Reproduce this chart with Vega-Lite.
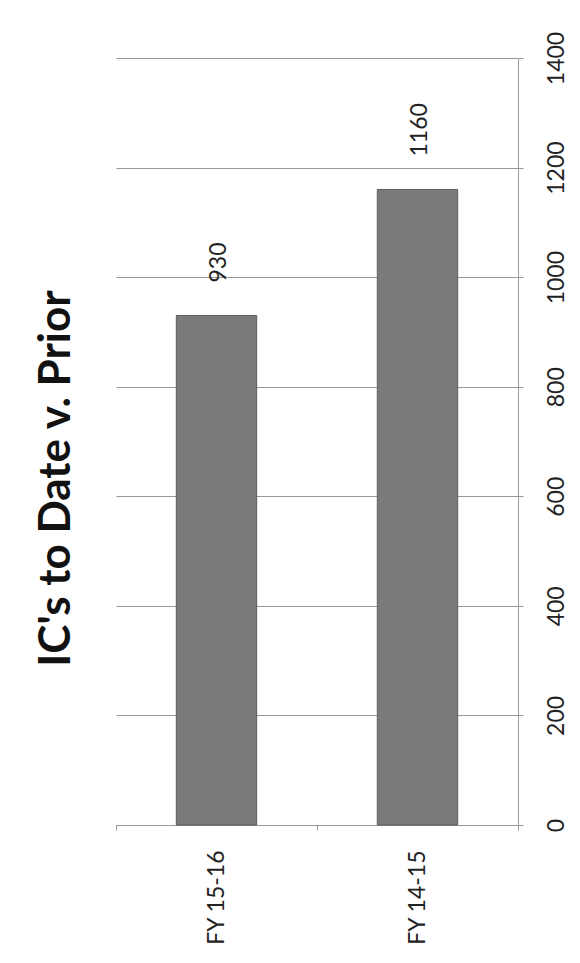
{
  "$schema": "https://vega.github.io/schema/vega-lite/v6.json",
  "width": 402,
  "height": 767,
  "autosize": {"type": "none"},
  "padding": {"left": 116, "top": 58, "right": 62, "bottom": 138},
  "background": "white",
  "title": {
    "text": "IC's to Date v. Prior",
    "orient": "left",
    "anchor": "middle",
    "font": "Lato",
    "fontSize": 44,
    "fontWeight": "bold",
    "color": "#111",
    "offset": 26,
    "dx": -37
  },
  "data": {
    "values": [
      {"period": "FY 15-16", "count": 930},
      {"period": "FY 14-15", "count": 1160}
    ]
  },
  "encoding": {
    "x": {
      "field": "period",
      "type": "nominal",
      "sort": null,
      "scale": {"paddingInner": 0, "paddingOuter": 0},
      "axis": {
        "title": null,
        "orient": "bottom",
        "labelAngle": -90,
        "labelAlign": "right",
        "labelBaseline": "middle",
        "labelFont": "Lato",
        "labelFontSize": 23,
        "labelColor": "#222",
        "labelPadding": 20,
        "tickBand": "extent",
        "tickSize": 5,
        "tickColor": "#999",
        "domainColor": "#999",
        "grid": false
      }
    },
    "y": {
      "field": "count",
      "type": "quantitative",
      "scale": {"domain": [0, 1400], "nice": false},
      "axis": {
        "title": null,
        "orient": "right",
        "values": [0, 200, 400, 600, 800, 1000, 1200, 1400],
        "format": "d",
        "labelAngle": -90,
        "labelAlign": "center",
        "labelBaseline": "top",
        "labelFont": "Lato",
        "labelFontSize": 23,
        "labelColor": "#222",
        "labelPadding": 22,
        "tickSize": 5,
        "tickColor": "#999",
        "domainColor": "#999",
        "grid": true,
        "gridColor": "#999"
      }
    }
  },
  "layer": [
    {
      "mark": {"type": "bar", "width": {"band": 0.4}, "color": "#7a7a7a", "stroke": "#5e5e5e", "strokeWidth": 1}
    },
    {
      "mark": {
        "type": "text",
        "angle": 270,
        "align": "left",
        "baseline": "middle",
        "dx": 33,
        "dy": 2,
        "font": "Lato",
        "fontSize": 23,
        "color": "#222"
      },
      "encoding": {"text": {"field": "count", "type": "quantitative"}}
    }
  ],
  "config": {
    "view": {"stroke": null},
    "font": "Lato"
  }
}
